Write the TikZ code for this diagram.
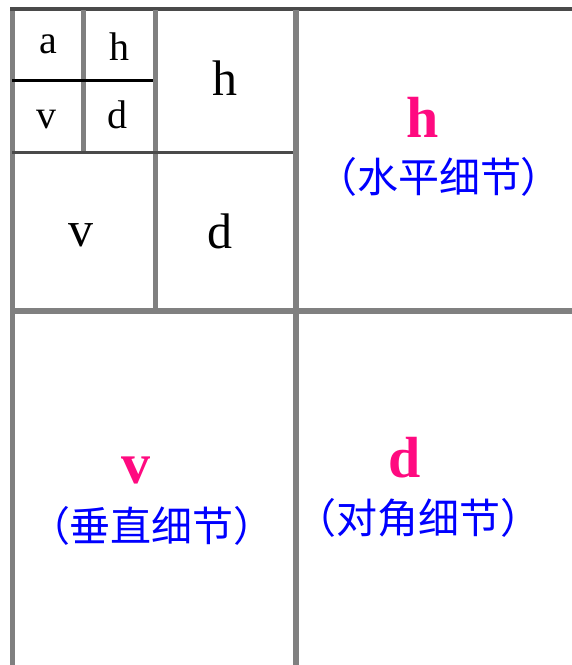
\documentclass[tikz,border=0pt]{standalone}
\usepackage{fontspec}
\setmainfont{Liberation Serif}
\newfontfamily\cjk{Noto Sans CJK SC}
\definecolor{pinkc}{HTML}{FF0A80}
\definecolor{bluec}{HTML}{0000FF}
\definecolor{lg}{HTML}{808080}
\definecolor{dg}{HTML}{4A4A4A}
\begin{document}
\begin{tikzpicture}[x=1pt,y=-1pt,
  lbl/.style={anchor=base,inner sep=0pt},
  smalll/.style={lbl,font=\fontsize{40}{40}\selectfont},
  midl/.style={lbl,font=\fontsize{50}{50}\selectfont},
  bigl/.style={lbl,text=pinkc,font=\fontsize{58}{58}\selectfont\bfseries},
  cjkl/.style={inner sep=0pt,text=bluec,font=\fontsize{41}{41}\selectfont\cjk},
  grid/.style={lg,line width=5pt}]
\useasboundingbox (0,0) rectangle (572,665);
\fill[white] (0,0) rectangle (572,665);
% grid lines
\draw[grid] (12.5,8) -- (12.5,665);
\draw[dg,line width=4pt] (10,9) -- (572,9);
\draw[grid] (83,10) -- (83,152);
\draw[black,line width=3pt] (12,80.5) -- (156,80.5);
\draw[grid] (155.5,10) -- (155.5,311);
\draw[dg,line width=3pt] (12,152.5) -- (296,152.5);
\draw[grid,line width=6pt] (296,10) -- (296,665);
\draw[grid,line width=6pt] (12,311) -- (572,311);
% small labels
\node[smalll] (a1) at (48,53) {a};
\node[smalll] (h1) at (119,60) {h};
\node[smalll] (v1) at (46,128) {v};
\node[smalll] (d1) at (117.5,128) {d};
% medium labels
\node[midl] (h2) at (225,95) {h};
\node[midl] (v2) at (81,246) {v};
\node[midl] (d2) at (220,248) {d};
% big labels
\node[bigl] (h3) at (423,137) {h};
\node[cjkl] (h3t) at (439,177) {（水平细节）};
\node[bigl] (v3) at (136,483) {v};
\node[cjkl] (v3t) at (152,526) {（垂直细节）};
\node[bigl] (d3) at (405,477) {d};
\node[cjkl] (d3t) at (418,518) {（对角细节）};
\end{tikzpicture}
\end{document}
